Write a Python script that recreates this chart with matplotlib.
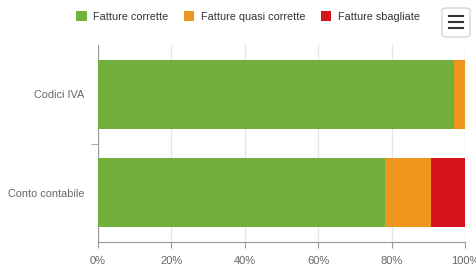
import matplotlib.pyplot as plt
from matplotlib.patches import FancyBboxPatch

plt.rcParams['font.family'] = ['Liberation Sans', 'DejaVu Sans']

categories = ['Codici IVA', 'Conto contabile']
corrette = [97.0, 78.2]
quasi = [3.0, 12.5]
sbagliate = [0.0, 9.3]
series_names = ['Fatture corrette', 'Fatture quasi corrette', 'Fatture sbagliate']
colors = ['#72B03D', '#EF961F', '#D51519']
xticks = [0, 20, 40, 60, 80, 100]

fig = plt.figure(figsize=(4.77, 2.66), dpi=100)
ax = fig.add_axes([98 / 477, 1 - 242 / 266, 367 / 477, 197 / 266])

ypos = range(len(categories))
left = [0] * len(categories)
for vals, name, c in zip([corrette, quasi, sbagliate], series_names, colors):
    ax.barh(ypos, vals, left=left, height=0.70, color=c, label=name, zorder=3)
    left = [l + v for l, v in zip(left, vals)]

ax.set_xlim(0, 100)
ax.set_ylim(1.5, -0.5)
ax.set_xticks(xticks)
ax.set_xticklabels([f'{t}%' for t in xticks], fontsize=8, color='#666666')
ax.set_yticks(list(ypos))
ax.set_yticklabels(categories, fontsize=7.8, color='#666666')
ax.tick_params(axis='y', length=0, pad=10)
ax.tick_params(axis='x', length=4, color='#999999', pad=6)
ax.set_yticks([0.5], minor=True)
ax.tick_params(axis='y', which='minor', length=5, color='#999999')
ax.grid(axis='x', color='#e6e6e6', linewidth=1, zorder=0)
for s in ['top', 'right']:
    ax.spines[s].set_visible(False)
ax.spines['left'].set_color('#999999')
ax.spines['bottom'].set_color('#999999')

ax.legend(loc='upper left', bbox_to_anchor=(67 / 477, 1 - 2 / 266), bbox_transform=fig.transFigure,
          ncol=3, frameon=False, fontsize=7.8, handlelength=0.95, handleheight=0.95,
          handletextpad=0.6, columnspacing=1.45, labelcolor='#333333', borderpad=0.35)

# menu button
fig.patches.append(FancyBboxPatch((442 / 477, 1 - 37 / 266), 28 / 477, 29 / 266,
                                  boxstyle='round,pad=0,rounding_size=0.01',
                                  transform=fig.transFigure, facecolor='white',
                                  edgecolor='#cccccc', linewidth=0.8))
for yy in [16, 22, 28]:
    fig.add_artist(plt.Line2D([449 / 477, 463 / 477], [1 - yy / 266, 1 - yy / 266],
                              transform=fig.transFigure, color='#333333', linewidth=1.5))

fig.savefig('out.png', dpi=100)
